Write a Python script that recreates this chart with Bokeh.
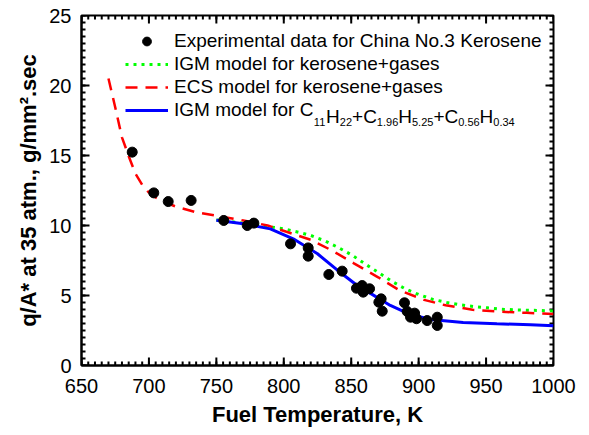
import math
from bokeh.plotting import figure
from bokeh.models import (Range1d, SingleIntervalTicker, Legend,
                          LegendItem, Label)
from bokeh.embed import file_html
from bokeh.resources import INLINE

# ---------------- data ----------------
exp_T = [687.6, 703.6, 714.3, 731.3, 755.5, 772.9, 777.8, 805.0, 818.1, 818.1,
         833.4, 843.3, 853.9, 858.1, 858.9, 863.6, 870.5, 872.2, 873.0, 889.5,
         891.5, 894.0, 897.0, 898.4, 906.3, 913.8, 913.8]
exp_q = [15.24, 12.33, 11.71, 11.79, 10.36, 10.00, 10.17, 8.69, 8.40, 7.81,
         6.50, 6.74, 5.52, 5.71, 5.24, 5.48, 4.52, 4.76, 3.88, 4.48,
         3.86, 3.45, 3.74, 3.34, 3.21, 3.45, 2.86]

ecs_T = [670, 675, 680, 685, 690, 695, 700, 705, 712, 720, 735, 750, 770, 788,
         802, 820, 836, 852, 870, 886, 904, 920, 940, 960, 980, 1000]
ecs_q = [20.5, 18.45, 16.3, 14.95, 13.7, 12.9, 12.35, 12.0, 11.66, 11.35, 10.95,
         10.7, 10.36, 10.0, 9.55, 8.98, 8.2, 7.3, 6.3, 5.36, 4.69, 4.3, 3.98,
         3.84, 3.76, 3.68]

igm_T = [750, 758, 778, 800, 811, 820, 831, 841, 851, 861, 871, 880, 890, 900,
         911, 921, 931, 941, 951, 961, 971, 981, 990, 1000]
igm_q = [10.4, 10.31, 10.07, 9.76, 9.52, 9.29, 8.88, 8.4, 7.86, 7.21, 6.59,
         6.02, 5.48, 5.07, 4.71, 4.5, 4.33, 4.21, 4.12, 4.02, 3.98, 3.95, 3.93, 3.9]

mix_T = [750, 770, 790, 807, 825, 840, 854, 864, 879, 894, 909, 933, 958, 983, 1000]
mix_q = [10.38, 10.12, 9.76, 9.05, 7.98, 6.79, 5.75, 5.17, 4.29, 3.64, 3.29,
         3.07, 2.98, 2.91, 2.84]

x_major = [650, 700, 750, 800, 850, 900, 950, 1000]
y_major = [0, 5, 10, 15, 20, 25]
x_minor_step = 5
y_minor_step = 0.5

legend_labels = ["Experimental data for China No.3 Kerosene",
                 "IGM model for kerosene+gases",
                 "ECS model for kerosene+gases",
                 "IGM model for C"]
formula_pieces = [("11", "sub"), ("H", "main"), ("22", "sub"), ("+C", "main"),
                  ("1.96", "sub"), ("H", "main"), ("5.25", "sub"), ("+C", "main"),
                  ("0.56", "sub"), ("H", "main"), ("0.34", "sub")]

FONT = "Liberation Sans"
X0, X1, Y0, Y1 = x_major[0], x_major[-1], y_major[0], y_major[-1]

p = figure(width=589, height=435, x_range=Range1d(X0, X1), y_range=Range1d(Y0, Y1),
           output_backend="svg", toolbar_location=None,
           min_border_left=81, min_border_right=36, min_border_top=15,
           min_border_bottom=70)
p.grid.visible = False
p.outline_line_color = "black"
p.outline_line_width = 2
p.background_fill_color = "white"
p.border_fill_color = "white"

xt = SingleIntervalTicker(interval=50, num_minor_ticks=10)
yt = SingleIntervalTicker(interval=5, num_minor_ticks=10)
for ax, tk in ((p.xaxis[0], xt), (p.yaxis[0], yt)):
    ax.ticker = tk
    ax.axis_line_color = "black"
    ax.axis_line_width = 2
    ax.major_tick_in = 0
    ax.major_tick_out = 0
    ax.minor_tick_in = 0
    ax.minor_tick_out = 0
    ax.major_label_text_font = FONT
    ax.major_label_text_font_size = "20px"
    ax.major_label_text_color = "black"
    ax.axis_label_text_font = FONT
    ax.axis_label_text_font_size = "22px"
    ax.axis_label_text_font_style = "bold"
    ax.axis_label_text_color = "black"
    if "background_fill_color" in ax.properties():
        ax.background_fill_color = None
p.xaxis[0].axis_label = "Fuel Temperature, K"
p.yaxis[0].axis_label = "q/A* at 35 atm., g/mm\u00b2.sec"
p.xaxis[0].major_label_standoff = 13
p.xaxis[0].axis_label_standoff = 6
p.yaxis[0].major_label_standoff = 10
p.yaxis[0].axis_label_standoff = 5

# inward tick marks on all four sides (screen-length rays)
n_xm = int(round((X1 - X0) / x_minor_step))
n_ym = int(round((Y1 - Y0) / y_minor_step))
x_minor = [X0 + i * x_minor_step for i in range(n_xm + 1)]
y_minor = [Y0 + i * y_minor_step for i in range(n_ym + 1)]
TK = dict(line_color="black", line_width=2, length_units="screen")
for vals, ln in ((x_minor, 4), (x_major, 8)):
    p.ray(x=vals, y=[Y0] * len(vals), length=ln, angle=math.pi / 2, **TK)
    p.ray(x=vals, y=[Y1] * len(vals), length=ln, angle=-math.pi / 2, **TK)
for vals, ln in ((y_minor, 4), (y_major, 8)):
    p.ray(x=[X0] * len(vals), y=vals, length=ln, angle=0, **TK)
    p.ray(x=[X1] * len(vals), y=vals, length=ln, angle=math.pi, **TK)

r_igm = p.line(igm_T, igm_q, line_color="#00FF00", line_width=3, line_dash="3 5")
r_ecs = p.line(ecs_T, ecs_q, line_color="#FF0000", line_width=2.5, line_dash="12 8")
r_mix = p.line(mix_T, mix_q, line_color="#0000FF", line_width=3)
r_exp = p.scatter(exp_T, exp_q, size=10, fill_color="black", line_color="black")

legend = Legend(items=[LegendItem(label=legend_labels[0], renderers=[r_exp]),
                       LegendItem(label=legend_labels[1], renderers=[r_igm]),
                       LegendItem(label=legend_labels[2], renderers=[r_ecs]),
                       LegendItem(label=legend_labels[3], renderers=[r_mix])],
                location=(44, 244), background_fill_alpha=0, border_line_color=None,
                padding=0, margin=0, spacing=1, glyph_width=43, glyph_height=22,
                label_height=22, label_standoff=6, label_text_font=FONT,
                label_text_font_size="19px", label_text_color="black")
p.add_layout(legend, "center")

# Arial / Liberation Sans advance widths (per 1000 em)
W = {"I": 278, "G": 778, "M": 833, " ": 278, "m": 833, "o": 556, "d": 556,
     "e": 556, "l": 222, "f": 278, "r": 333, "C": 722, "H": 722, "+": 584,
     ".": 278}
for c in "0123456789":
    W[c] = 556


def tw(s, size):
    return sum(W[c] for c in s) * size / 1000.0


MAIN, SUB = 19, 11
x = 44 + 43 + 6 + tw(legend_labels[3], MAIN)
main_base, sub_base = 249.0, 243.5
for txt, kind in formula_pieces:
    size = MAIN if kind == "main" else SUB
    p.add_layout(Label(x=x, y=main_base if kind == "main" else sub_base,
                       x_units="screen", y_units="screen", text=txt,
                       text_font=FONT, text_font_size=f"{size}px",
                       text_baseline="alphabetic", text_align="left",
                       text_color="black"))
    x += tw(txt, size)

open("out.html", "w").write(file_html(p, INLINE))
